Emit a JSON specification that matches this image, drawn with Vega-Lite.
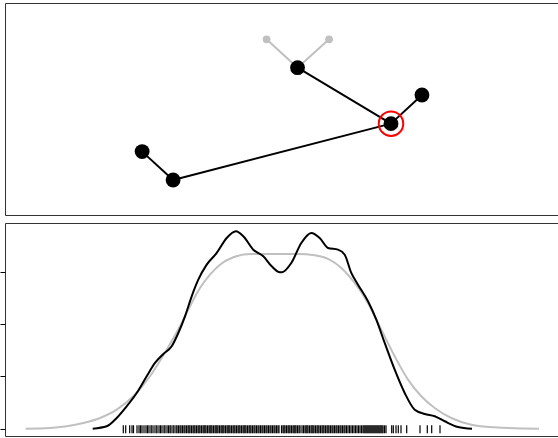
{
  "$schema": "https://vega.github.io/schema/vega-lite/v6.json",
  "padding": {"top": 2, "left": -1, "right": 0, "bottom": 0},
  "spacing": 6,
  "config": {"view": {"stroke": "#333", "strokeWidth": 1}},
  "datasets": {
    "edges": [
      {"fx": 0.473, "fy": 0.829, "tx": 0.529, "ty": 0.695, "kind": "inactive"},
      {"fx": 0.586, "fy": 0.829, "tx": 0.529, "ty": 0.695, "kind": "inactive"},
      {"fx": 0.529, "fy": 0.695, "tx": 0.698, "ty": 0.431, "kind": "active"},
      {"fx": 0.698, "fy": 0.431, "tx": 0.754, "ty": 0.566, "kind": "active"},
      {"fx": 0.698, "fy": 0.431, "tx": 0.304, "ty": 0.165, "kind": "active"},
      {"fx": 0.304, "fy": 0.165, "tx": 0.248, "ty": 0.299, "kind": "active"}
    ],
    "nodes": [
      {"id": "g1", "x": 0.473, "y": 0.829, "kind": "inactive", "focus": false},
      {"id": "g2", "x": 0.586, "y": 0.829, "kind": "inactive", "focus": false},
      {"id": "n1", "x": 0.529, "y": 0.695, "kind": "active", "focus": false},
      {"id": "n2", "x": 0.754, "y": 0.566, "kind": "active", "focus": false},
      {"id": "n3", "x": 0.698, "y": 0.431, "kind": "active", "focus": true},
      {"id": "n4", "x": 0.248, "y": 0.299, "kind": "active", "focus": false},
      {"id": "n5", "x": 0.304, "y": 0.165, "kind": "active", "focus": false}
    ],
    "kde": [
      {"x": 87.7, "d": 0}, {"x": 101.7, "d": 0.0046}, {"x": 111.7, "d": 0.0205}, {"x": 121.7, "d": 0.0429},
      {"x": 131.7, "d": 0.0684}, {"x": 141.7, "d": 0.1004}, {"x": 150, "d": 0.1259}, {"x": 158.3, "d": 0.1431},
      {"x": 166.7, "d": 0.1579}, {"x": 173.3, "d": 0.1833}, {"x": 180, "d": 0.2153}, {"x": 186.7, "d": 0.2536},
      {"x": 193.3, "d": 0.2854}, {"x": 201.7, "d": 0.3142}, {"x": 211.7, "d": 0.3366}, {"x": 221.7, "d": 0.3653},
      {"x": 231, "d": 0.3782}, {"x": 238.3, "d": 0.3686}, {"x": 248.3, "d": 0.3429}, {"x": 258.3, "d": 0.3303},
      {"x": 266.7, "d": 0.3111}, {"x": 275, "d": 0.2996}, {"x": 277, "d": 0.2996}, {"x": 286.3, "d": 0.3174},
      {"x": 296.3, "d": 0.3557}, {"x": 306.3, "d": 0.3749}, {"x": 314.7, "d": 0.3653}, {"x": 323, "d": 0.3462},
      {"x": 333, "d": 0.3429}, {"x": 339.7, "d": 0.3333}, {"x": 346.3, "d": 0.2983}, {"x": 353, "d": 0.2759},
      {"x": 363, "d": 0.2441}, {"x": 371.3, "d": 0.2088}, {"x": 379.7, "d": 0.1642}, {"x": 389.7, "d": 0.113},
      {"x": 399.7, "d": 0.0684}, {"x": 409.7, "d": 0.0364}, {"x": 419.7, "d": 0.0282}, {"x": 429.7, "d": 0.0238},
      {"x": 439.7, "d": 0.0142}, {"x": 453, "d": 0.0033}, {"x": 467, "d": 0}
    ],
    "normal": [
      {"x": 20.7, "d": 0}, {"x": 45, "d": 0.0013}, {"x": 61.7, "d": 0.0046}, {"x": 78.3, "d": 0.0109},
      {"x": 95, "d": 0.0205}, {"x": 111.7, "d": 0.0364}, {"x": 128.3, "d": 0.0621}, {"x": 145, "d": 0.1004},
      {"x": 161.7, "d": 0.1513}, {"x": 175, "d": 0.1962}, {"x": 185, "d": 0.2345}, {"x": 195, "d": 0.2695},
      {"x": 205, "d": 0.295}, {"x": 215, "d": 0.3142}, {"x": 228.3, "d": 0.3284}, {"x": 245, "d": 0.3347},
      {"x": 275, "d": 0.3347}, {"x": 293, "d": 0.3347}, {"x": 309.7, "d": 0.3322}, {"x": 323, "d": 0.3251},
      {"x": 336.3, "d": 0.3079}, {"x": 349.7, "d": 0.2791}, {"x": 363, "d": 0.2408}, {"x": 376.3, "d": 0.1897},
      {"x": 389.7, "d": 0.1387}, {"x": 403, "d": 0.0939}, {"x": 416.3, "d": 0.0621}, {"x": 429.7, "d": 0.0397},
      {"x": 446.3, "d": 0.0205}, {"x": 466.3, "d": 0.0077}, {"x": 489.7, "d": 0.0027}, {"x": 534, "d": 0}
    ],
    "rug": [
      {"x": 118.3}, {"x": 120.7}, {"x": 124.7}, {"x": 127}, {"x": 128.5}, {"x": 132}, {"x": 134}, {"x": 135.5},
      {"x": 137}, {"x": 139}, {"x": 141}, {"x": 142.5}, {"x": 144}, {"x": 146}, {"x": 147}, {"x": 149},
      {"x": 151}, {"x": 152}, {"x": 154}, {"x": 155.5}, {"x": 157}, {"x": 159}, {"x": 160}, {"x": 162},
      {"x": 163.5}, {"x": 165}, {"x": 166}, {"x": 168}, {"x": 169}, {"x": 171}, {"x": 172}, {"x": 173.5},
      {"x": 175}, {"x": 176}, {"x": 177.5}, {"x": 179}, {"x": 180}, {"x": 181.5}, {"x": 183}, {"x": 184},
      {"x": 185}, {"x": 186.5}, {"x": 188}, {"x": 189}, {"x": 190}, {"x": 191.5}, {"x": 193}, {"x": 194},
      {"x": 195}, {"x": 196.5}, {"x": 198}, {"x": 199}, {"x": 200}, {"x": 201}, {"x": 202.5}, {"x": 204},
      {"x": 205}, {"x": 206}, {"x": 207}, {"x": 208.5}, {"x": 210}, {"x": 211}, {"x": 212}, {"x": 213},
      {"x": 214.5}, {"x": 216}, {"x": 217}, {"x": 218}, {"x": 219}, {"x": 220.5}, {"x": 222}, {"x": 223},
      {"x": 224}, {"x": 225}, {"x": 226.5}, {"x": 228}, {"x": 229}, {"x": 230}, {"x": 231.5}, {"x": 233},
      {"x": 234}, {"x": 235}, {"x": 236.5}, {"x": 238}, {"x": 239}, {"x": 240}, {"x": 241}, {"x": 242.5},
      {"x": 244}, {"x": 245}, {"x": 246}, {"x": 247.5}, {"x": 249}, {"x": 250}, {"x": 251.5}, {"x": 253},
      {"x": 254}, {"x": 255.5}, {"x": 257}, {"x": 258}, {"x": 259.5}, {"x": 261}, {"x": 262}, {"x": 263.5},
      {"x": 265}, {"x": 266}, {"x": 267.5}, {"x": 269}, {"x": 270}, {"x": 271.5}, {"x": 273}, {"x": 274},
      {"x": 276.5}, {"x": 278}, {"x": 279}, {"x": 280}, {"x": 281.5}, {"x": 283}, {"x": 284}, {"x": 285},
      {"x": 286.5}, {"x": 288}, {"x": 289}, {"x": 290}, {"x": 291}, {"x": 292.5}, {"x": 294}, {"x": 295},
      {"x": 297}, {"x": 298.5}, {"x": 300}, {"x": 301}, {"x": 302}, {"x": 303}, {"x": 304.5}, {"x": 306},
      {"x": 307}, {"x": 308}, {"x": 309}, {"x": 310.5}, {"x": 312}, {"x": 313}, {"x": 314}, {"x": 315.5},
      {"x": 317}, {"x": 318}, {"x": 319}, {"x": 320.5}, {"x": 322}, {"x": 323}, {"x": 324}, {"x": 325.5},
      {"x": 327}, {"x": 328}, {"x": 329.5}, {"x": 331}, {"x": 332}, {"x": 333.5}, {"x": 335}, {"x": 336},
      {"x": 337.5}, {"x": 339}, {"x": 340}, {"x": 341.5}, {"x": 343}, {"x": 344.5}, {"x": 346}, {"x": 347.5},
      {"x": 349}, {"x": 350.5}, {"x": 352}, {"x": 353.5}, {"x": 355}, {"x": 356.5}, {"x": 358}, {"x": 359},
      {"x": 360}, {"x": 361}, {"x": 362}, {"x": 363}, {"x": 364}, {"x": 365}, {"x": 366}, {"x": 367},
      {"x": 368}, {"x": 369}, {"x": 370}, {"x": 371}, {"x": 372}, {"x": 373}, {"x": 374}, {"x": 375},
      {"x": 376}, {"x": 377}, {"x": 378}, {"x": 379.5}, {"x": 381}, {"x": 386.7}, {"x": 388.3}, {"x": 391},
      {"x": 393.3}, {"x": 396}, {"x": 401.7}, {"x": 415}, {"x": 422.3}, {"x": 426.7}, {"x": 435}
    ]
  },
  "vconcat": [
    {
      "width": 553,
      "height": 212,
      "layer": [
        {
          "data": {"name": "edges"},
          "mark": {"type": "rule", "strokeWidth": 2},
          "encoding": {
            "x": {"field": "fx", "type": "quantitative", "scale": {"domain": [0, 1], "nice": false, "zero": false}, "axis": null},
            "y": {"field": "fy", "type": "quantitative", "scale": {"domain": [0, 1], "nice": false, "zero": false}, "axis": null},
            "x2": {"field": "tx"},
            "y2": {"field": "ty"},
            "color": {"field": "kind", "type": "nominal", "scale": {"domain": ["active", "inactive"], "range": ["#000000", "#c0c0c0"]}, "legend": null}
          }
        },
        {
          "data": {"name": "nodes"},
          "transform": [{"filter": "datum.kind == 'inactive'"}],
          "mark": {"type": "point", "shape": "circle", "filled": true, "size": 60, "opacity": 1},
          "encoding": {
            "x": {"field": "x", "type": "quantitative"},
            "y": {"field": "y", "type": "quantitative"},
            "color": {"field": "kind", "type": "nominal", "legend": null}
          }
        },
        {
          "data": {"name": "nodes"},
          "transform": [{"filter": "datum.kind == 'active'"}],
          "mark": {"type": "point", "shape": "circle", "filled": true, "size": 220, "opacity": 1},
          "encoding": {
            "x": {"field": "x", "type": "quantitative"},
            "y": {"field": "y", "type": "quantitative"},
            "color": {"field": "kind", "type": "nominal", "legend": null}
          }
        },
        {
          "data": {"name": "nodes"},
          "transform": [{"filter": "datum.focus"}],
          "mark": {"type": "point", "shape": "circle", "filled": false, "size": 600, "stroke": "#ff0000", "strokeWidth": 2, "opacity": 1},
          "encoding": {
            "x": {"field": "x", "type": "quantitative"},
            "y": {"field": "y", "type": "quantitative"}
          }
        }
      ]
    },
    {
      "width": 553,
      "height": 213,
      "layer": [
        {
          "data": {"name": "normal"},
          "mark": {"type": "line", "color": "#c0c0c0", "strokeWidth": 2, "interpolate": "monotone"},
          "encoding": {
            "x": {"field": "x", "type": "quantitative", "scale": {"domain": [0, 553], "nice": false, "zero": false}, "axis": null},
            "y": {"field": "d", "type": "quantitative", "scale": {"domain": [-0.014, 0.394], "nice": false, "zero": false},
              "axis": {"values": [0, 0.1, 0.2, 0.3], "labels": false, "domain": false, "grid": false, "ticks": true, "tickSize": 5, "tickColor": "#000", "title": null}}
          }
        },
        {
          "data": {"name": "kde"},
          "mark": {"type": "line", "color": "#000000", "strokeWidth": 2, "interpolate": "monotone"},
          "encoding": {
            "x": {"field": "x", "type": "quantitative"},
            "y": {"field": "d", "type": "quantitative"}
          }
        },
        {
          "data": {"name": "rug"},
          "mark": {"type": "rule", "color": "#000000", "strokeWidth": 1.2},
          "encoding": {
            "x": {"field": "x", "type": "quantitative"},
            "y": {"datum": 0.0065},
            "y2": {"datum": -0.0088}
          }
        }
      ]
    }
  ]
}
